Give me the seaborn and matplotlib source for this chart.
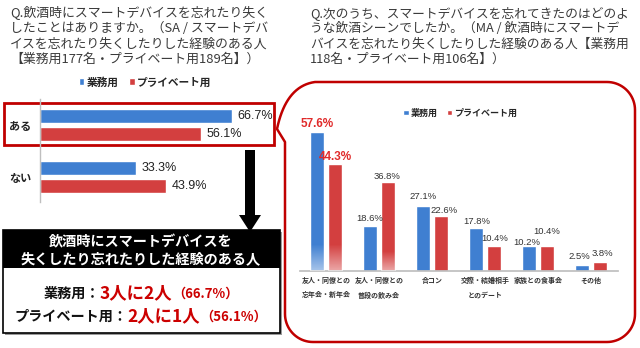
import numpy as np
import pandas as pd
import matplotlib
matplotlib.use("Agg")
import matplotlib.pyplot as plt
import seaborn as sns
from matplotlib.patches import Rectangle, Polygon

# ---------------- data ----------------
series = ["業務用", "プライベート用"]
left_cats = ["ある", "ない"]
left_biz = [66.7, 33.3]
left_priv = [56.1, 43.9]

right_cats = ["友人・同僚との\n忘年会・新年会", "友人・同僚との\n普段の飲み会", "合コン",
              "交際・結婚相手\nとのデート", "家族との食事会", "その他"]
right_biz = [57.6, 18.6, 27.1, 17.8, 10.2, 2.5]
right_priv = [44.3, 36.8, 22.6, 10.4, 10.4, 3.8]

title_left = ["Q.飲酒時にスマートデバイスを忘れたり失く",
              "したことはありますか。（SA / スマートデバ",
              "イスを忘れたり失くしたりした経験のある人",
              "【業務用177名・プライベート用189名】）"]
title_right = ["Q.次のうち、スマートデバイスを忘れてきたのはどのよ",
               "うな飲酒シーンでしたか。（MA / 飲酒時にスマートデ",
               "バイスを忘れたり失くしたりした経験のある人【業務用",
               "118名・プライベート用106名】）"]
box_head = ["飲酒時にスマートデバイスを", "失くしたり忘れたりした経験のある人"]
box_rows = [("業務用：", "3人に2人", "（66.7%）"),
            ("プライベート用：", "2人に1人", "（56.1%）")]

# ---------------- style ----------------
BLUE = "#3f7fd1"
RED = "#d33f3f"
DARKRED = "#cc0000"
TXT = "#3a3a3a"
JP = ["Noto Sans CJK JP", "DejaVu Sans"]
NUM = ["Liberation Sans", "Noto Sans CJK JP"]

sns.set_theme(style="white")
plt.rcParams["font.family"] = JP

W, H = 640, 348
fig = plt.figure(figsize=(6.4, 3.48), dpi=100)
fig.patch.set_facecolor("white")


def ax_px(l, t, r, b):
    a = fig.add_axes([l / W, 1 - b / H, (r - l) / W, (b - t) / H])
    a.set_facecolor("none")
    return a


def fy(y):
    return 1 - y / H


# overlay axes in pixel coordinates for decorations
ov = fig.add_axes([0, 0, 1, 1])
ov.set_xlim(0, W)
ov.set_ylim(H, 0)
ov.axis("off")
ov.set_zorder(0)


def arc(cx, cy, r, a0, a1, n=20):
    t = np.radians(np.linspace(a0, a1, n))
    return list(zip(cx + r * np.cos(t), cy + r * np.sin(t)))


# callout shape (rounded box with pointer on the left)
R = 28
L, T, Rr, B = 285, 82, 635, 342
pts = [(315, T), (Rr - R, T)]
pts += arc(Rr - R, T + R, R, -90, 0)
pts += [(Rr, B - R)]
pts += arc(Rr - R, B - R, R, 0, 90)
pts += [(L + R, B)]
pts += arc(L + R, B - R, R, 90, 180)
pts += [(L, 142), (277, 129)]
t = np.linspace(0, 1, 20)
p0, p1, p2 = np.array([277, 129]), np.array([286, 86]), np.array([315, T])
pts += [tuple((1 - s) ** 2 * p0 + 2 * (1 - s) * s * p1 + s ** 2 * p2) for s in t]
ov.add_patch(Polygon(pts, closed=True, fill=False, edgecolor="#c00000", lw=1.8, joinstyle="round"))

# red frame around "ある"
ov.add_patch(Rectangle((4, 103), 270, 42, fill=False, edgecolor="#c00000", lw=2))

# arrow
ov.add_patch(Rectangle((245, 150), 10, 66, color="black", lw=0))
ov.add_patch(Polygon([(239, 215), (261, 215), (250, 232)], closed=True, color="black", lw=0))

# summary box
ov.add_patch(Rectangle((5, 232), 277, 103, color="#9a9a9a", lw=0))
ov.add_patch(Rectangle((3, 230), 277, 103, facecolor="white", edgecolor="black", lw=1.2))
ov.add_patch(Rectangle((3, 230), 277, 38, color="black", lw=0))

# ---------------- titles ----------------
for i, s in enumerate(title_left):
    fig.text(10 / W, fy(13 + i * 15.5), s, fontsize=9.3, color=TXT, va="center", ha="left")
for i, s in enumerate(title_right):
    fig.text(310 / W, fy(13 + i * 15.5), s, fontsize=9.2, color=TXT, va="center", ha="left")

# ---------------- left chart ----------------
dfl = pd.DataFrame({"cat": left_cats * 2,
                    "val": left_biz + left_priv,
                    "series": [series[0]] * len(left_cats) + [series[1]] * len(left_cats)})
axl = ax_px(40, 99, 270, 202)
sns.barplot(data=dfl, y="cat", x="val", hue="series", orient="h", palette=[BLUE, RED],
            width=0.7, gap=0.22, saturation=1, ax=axl)
axl.set_xlim(0, 80)
axl.set_ylim(1.48, -0.5)
for sp in ["top", "right", "bottom"]:
    axl.spines[sp].set_visible(False)
axl.spines["left"].set_color("#bfbfbf")
axl.spines["left"].set_linewidth(1)
axl.set_xticks([])
axl.set_xlabel("")
axl.set_ylabel("")
axl.tick_params(axis="y", length=0, pad=6)
for lab in axl.get_yticklabels():
    lab.set_fontweight("bold")
    lab.set_fontsize(8)
    lab.set_color("#222222")
for c, vals in zip(axl.containers, [left_biz, left_priv]):
    axl.bar_label(c, labels=[f"{v:.1f}%" for v in vals], padding=4, fontsize=9,
                  family=NUM, color="#222222")
sns.move_legend(axl, "center", bbox_to_anchor=(145 / W, fy(82)), bbox_transform=fig.transFigure,
                ncol=2, frameon=False, title=None, prop={"weight": "bold", "size": 7.7},
                handlelength=0.55, handleheight=0.55, handletextpad=0.2, columnspacing=1.0)

# ---------------- right chart ----------------
dfr = pd.DataFrame({"cat": right_cats * 2,
                    "val": right_biz + right_priv,
                    "series": [series[0]] * len(right_cats) + [series[1]] * len(right_cats)})
axr = ax_px(299.5, 114, 617.5, 271)
sns.barplot(data=dfr, x="cat", y="val", hue="series", palette=[BLUE, RED],
            width=0.68, gap=0.2, saturation=1, ax=axr)
axr.set_xlim(-0.5, 5.5)
axr.set_ylim(0, 65.1)
for sp in ["top", "right", "left"]:
    axr.spines[sp].set_visible(False)
axr.spines["bottom"].set_color("#bfbfbf")
axr.set_yticks([])
axr.set_xlabel("")
axr.set_ylabel("")
axr.tick_params(axis="x", length=0, pad=4)
for lab in axr.get_xticklabels():
    lab.set_fontweight("bold")
    lab.set_fontsize(5)
    lab.set_color("#333333")
    lab.set_linespacing(2.3)
    lab.set_va("top")


# soft fading at the bottom of some bars (as in the original image)
def fade(ax, patch, h):
    x0, w = patch.get_x(), patch.get_width()
    g = np.ones((60, 1, 4))
    g[:, 0, 3] = np.linspace(0, 0.55, 60)
    im = ax.imshow(g, extent=[x0, x0 + w, 0, h], origin="upper", aspect="auto", zorder=3)
    im.set_clip_path(patch)


bz, pv = axr.containers[0], axr.containers[1]
fade(axr, bz.patches[0], 11)
fade(axr, pv.patches[0], 11)
fade(axr, pv.patches[1], 8)
axr.set_xlim(-0.5, 5.5)
axr.set_ylim(0, 65.1)

nudge_biz = [(0, 8), (0, 8), (0, 9), (1, 7), (-2, 4), (-3, 8)]
nudge_priv = [(0, 7), (-1, 6), (3, 5.5), (1, 7), (0, 14), (2, 8)]
for cont, vals, nudges in [(bz, right_biz, nudge_biz), (pv, right_priv, nudge_priv)]:
    for i, (p, v, (dx, dy)) in enumerate(zip(cont.patches, vals, nudges)):
        xc = p.get_x() + p.get_width() / 2
        if i == 0:
            kw = dict(fontsize=8.5, fontweight="bold", color="#e02b2b")
        else:
            kw = dict(fontsize=6.8, color="#333333")
        axr.annotate(f"{v:.1f}%", (xc, v), xytext=(dx * 0.72, dy * 0.72), textcoords="offset points",
                     ha="center", va="center", family=NUM, **kw)

sns.move_legend(axr, "center", bbox_to_anchor=(460 / W, fy(113)), bbox_transform=fig.transFigure,
                ncol=2, frameon=False, title=None, prop={"weight": "bold", "size": 6.5},
                handlelength=0.6, handleheight=0.6, handletextpad=0.2, columnspacing=1.0)

# ---------------- summary box text ----------------
for i, s in enumerate(box_head):
    fig.text(141 / W, fy(242 + i * 17), s, fontsize=10.2, fontweight="bold", color="white",
             ha="center", va="center")

renderer = fig.canvas.get_renderer()


def rich_line(y, parts, cx):
    texts = []
    for s, size, color in parts:
        texts.append(fig.text(0, fy(y), s, fontsize=size, color=color, fontweight="bold",
                              va="baseline", ha="left"))
    widths = [t.get_window_extent(renderer).width for t in texts]
    x = cx - sum(widths) / 2
    for t, w in zip(texts, widths):
        t.set_x(x / W)
        x += w


for (lab, big, pct), y in zip(box_rows, [298, 321]):
    rich_line(y, [(lab, 10.2, "#111111"), (big, 12.5, DARKRED), (pct, 9.5, DARKRED)], 141)

fig.savefig("out.png", dpi=100, facecolor="white")
